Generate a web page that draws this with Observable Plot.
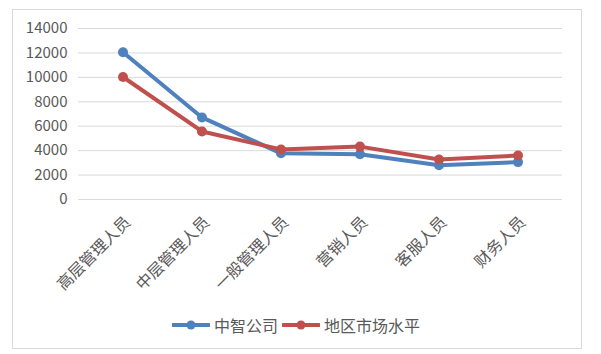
<!DOCTYPE html>
<html><head><meta charset="utf-8">
<script src="https://cdn.jsdelivr.net/npm/d3@7"></script>
<script src="https://cdn.jsdelivr.net/npm/@observablehq/plot@0.6"></script>
<style>
body{margin:0;background:#fff;font-family:"Noto Sans CJK SC","Noto Sans",sans-serif;}
#wrap{position:relative;width:601px;height:354px;}
#frame{position:absolute;left:12px;top:9px;width:570px;height:340px;border:1px solid #d9d9d9;box-sizing:border-box;}
#chart{position:absolute;left:0;top:0;}
#legend{position:absolute;left:0;top:313px;width:601px;display:flex;justify-content:center;padding-right:9px;box-sizing:border-box;align-items:center;font-size:16px;color:#595959;}
#legend .item{display:flex;align-items:center;margin:0 2px;}
#legend svg{margin-right:4px;}
</style></head>
<body><div id="wrap"><div id="frame"></div><div id="chart"></div><div id="legend"></div></div>
<script>
const categories = ["高层管理人员","中层管理人员","一般管理人员","营销人员","客服人员","财务人员"];
const seriesNames = ["中智公司","地区市场水平"];
const companyValues = [12050, 6720, 3780, 3700, 2800, 3060];
const marketValues = [10030, 5570, 4100, 4330, 3280, 3600];
const yTicks = [0,2000,4000,6000,8000,10000,12000,14000];
const colors = ["#4F81BD","#C0504D"];

const data = [];
categories.forEach((c,i)=>{
  data.push({cat:c, series:seriesNames[0], value:companyValues[i]});
  data.push({cat:c, series:seriesNames[1], value:marketValues[i]});
});

const plot = Plot.plot({
  width: 601, height: 300,
  marginLeft: 78, marginRight: 39, marginTop: 28, marginBottom: 101,
  style: {fontFamily: '"Noto Sans CJK SC","Noto Sans",sans-serif', fontSize: "15px", color: "#595959", background: "transparent"},
  x: {type: "band", domain: categories, label: null},
  y: {domain: [0,14000], label: null},
  color: {domain: seriesNames, range: colors},
  marks: [
    Plot.gridY(yTicks, {stroke: "#d9d9d9", strokeOpacity: 1, strokeWidth: 1}),
    Plot.axisY(yTicks, {tickSize: 0, tickPadding: 11, fontSize: 15, fill: "#595959", tickFormat: d => String(d)}),
    Plot.axisX({tickSize: 0, tickRotate: -45, tickPadding: 20, dx: 5, fontSize: 16, fill: "#595959"}),
    Plot.line(data, {x: "cat", y: "value", z: "series", stroke: "series", strokeWidth: 4, strokeLinejoin: "round"}),
    Plot.dot(data, {x: "cat", y: "value", fill: "series", r: 5})
  ]
});
document.getElementById("chart").appendChild(plot);

const legend = document.getElementById("legend");
seriesNames.forEach((s,i)=>{
  const item = document.createElement("div");
  item.className = "item";
  item.innerHTML = `<svg width="38" height="12"><line x1="1" y1="6" x2="37" y2="6" stroke="${colors[i]}" stroke-width="4" stroke-linecap="round"/><circle cx="19" cy="6" r="4.5" fill="${colors[i]}"/></svg><span>${s}</span>`;
  legend.appendChild(item);
});
</script></body></html>
